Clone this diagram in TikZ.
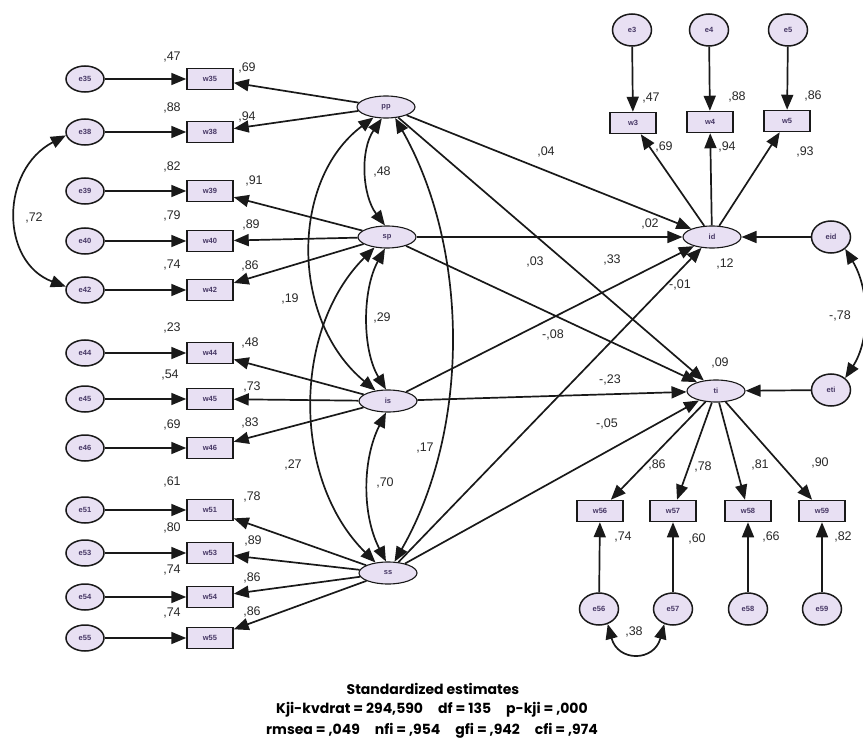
\documentclass[tikz,border=0pt]{standalone}
\usepackage{fontspec}
\setmainfont{Liberation Sans}
\newfontfamily\titlefont{Poppins}
\usetikzlibrary{arrows.meta,shapes.geometric}
\definecolor{nodefill}{RGB}{232,224,243}
\definecolor{edgecol}{RGB}{25,25,25}
\definecolor{txtcol}{RGB}{70,55,100}
\definecolor{lblcol}{RGB}{40,40,40}
\tikzset{
  >={Triangle[length=15pt,width=12pt]},
  base/.style={draw=edgecol,line width=1.5pt,fill=nodefill,font=\bfseries\fontsize{7.5}{8}\selectfont,text=txtcol,inner sep=0pt},
  errl/.style={base,ellipse,minimum width=38pt,minimum height=26pt},
  errr/.style={base,ellipse,minimum width=39pt,minimum height=32pt},
  obs/.style={base,rectangle,minimum width=46pt,minimum height=21pt},
  lat/.style={base,ellipse,line width=1.1pt,minimum width=58pt,minimum height=22pt},
  path/.style={draw=edgecol,line width=1.7pt,->},
  cov/.style={draw=edgecol,line width=1.7pt,<->},
  lbl/.style={font=\fontsize{12.5}{14}\selectfont,text=lblcol,inner sep=0pt},
  bottom/.style={font=\titlefont\bfseries\fontsize{14}{16}\selectfont,text=black,inner sep=0pt}
}
\newcommand{\gap}{\hspace{15pt}}
\begin{document}
\begin{tikzpicture}[x=1pt,y=-1pt]
\useasboundingbox (0,0) rectangle (863,752);
% left indicators
\foreach \n/\y in {35/79,38/132,39/191,40/241,42/290,44/353,45/399,46/448,51/510,53/553,54/597,55/638}{
  \node[errl] (e\n) at (85,\y) {e\n};
  \node[obs] (w\n) at (210,\y) {w\n};
  \draw[path] (e\n) -- (w\n);
}
% latent
\node[lat] (pp) at (386,107) {pp};
\node[lat] (sp) at (387,237) {sp};
\node[lat] (is) at (388,401) {is};
\node[lat] (ss) at (388,573) {ss};
\node[lat] (id) at (712,237) {id};
\node[lat] (ti) at (716,391) {ti};
% top
\node[errr] (e3) at (632,30) {e3};
\node[errr] (e4) at (709,30) {e4};
\node[errr] (e5) at (788,30) {e5};
\node[obs] (w3) at (633,123) {w3};
\node[obs] (w4) at (710,122) {w4};
\node[obs] (w5) at (787,121) {w5};
\node[errr] (eid) at (831,237) {eid};
\node[errr] (eti) at (831,390) {eti};
% bottom right
\node[obs] (w56) at (600,511) {w56};
\node[obs] (w57) at (673,511) {w57};
\node[obs] (w58) at (748,511) {w58};
\node[obs] (w59) at (822,511) {w59};
\node[errr] (e56) at (599,609) {e56};
\node[errr] (e57) at (673,609) {e57};
\node[errr] (e58) at (748,609) {e58};
\node[errr] (e59) at (822,609) {e59};
% loadings
\foreach \w in {35,38}{\draw[path] (pp) -- (w\w);}
\foreach \w in {39,40,42}{\draw[path] (sp) -- (w\w);}
\foreach \w in {44,45,46}{\draw[path] (is) -- (w\w);}
\foreach \w in {51,53,54,55}{\draw[path] (ss) -- (w\w);}
\foreach \w in {3,4,5}{\draw[path] (id) -- (w\w); \draw[path] (e\w) -- (w\w);}
\foreach \w in {56,57,58,59}{\draw[path] (ti) -- (w\w); \draw[path] (e\w) -- (w\w);}
% structural
\foreach \s in {pp,sp,is,ss}{\draw[path] (\s) -- (id); \draw[path] (\s) -- (ti);}
\draw[path] (eid) -- (id);
\draw[path] (eti) -- (ti);
% covariances
\draw[cov] (e38.190) .. controls (0,170) and (0,262) .. (e42.170);
\draw[cov] (eid.-40) .. controls (870,290) and (870,340) .. (eti.40);
\draw[cov] (e56.-60) .. controls (618,662) and (654,662) .. (e57.-120);
\draw[cov] (pp.-110) .. controls (360,150) and (362,195) .. (sp.100);
\draw[cov] (sp.-100) .. controls (362,290) and (362,350) .. (is.100);
\draw[cov] (is.-100) .. controls (362,460) and (362,515) .. (ss.100);
\draw[cov] (pp.-140) .. controls (290,180) and (290,320) .. (is.140);
\draw[cov] (sp.-140) .. controls (292,330) and (292,480) .. (ss.140);
\draw[cov] (pp.-50) .. controls (470,250) and (470,430) .. (ss.60);
% labels
\foreach \t/\x/\y [count=\i] in {
 {,47}/172/57, {,69}/247/68, {,88}/172/108, {,94}/247/117, {,82}/172/167, {,91}/254/181,
 {,79}/172/216, {,89}/251/225, {,74}/172/265, {,86}/250/266, {,23}/172/328, {,48}/250/343,
 {,54}/170/375, {,73}/252/387, {,69}/172/425, {,83}/250/423, {,61}/172/482, {,78}/252/497,
 {,80}/172/528, {,89}/253/541, {,74}/172/570, {,86}/252/578, {,74}/172/613, {,86}/252/612,
 {,72}/34/218, {,48}/382/172, {,29}/382/318, {,70}/385/483, {,19}/290/299, {,27}/293/465,
 {,17}/425/448, {,04}/546/152, {,03}/535/262, {-,08}/553/335, {,33}/612/260, {,02}/650/224,
 {-,01}/680/285, {-,23}/610/380, {-,05}/607/424, {,47}/651/98, {,88}/737/97, {,86}/813/96,
 {,69}/664/147, {,94}/727/147, {,93}/805/152, {,12}/725/264, {,09}/720/363, {-,78}/840/316,
 {,86}/657/465, {,78}/703/467, {,81}/760/465, {,90}/820/463, {,74}/623/537, {,60}/697/539,
 {,66}/771/537, {,82}/843/537, {,38}/634/632}
 {\node[lbl] (lab\i) at (\x,\y) {\t};}
% bottom text
\node[bottom] (t1) at (433,689) {Standardized estimates};
\node[bottom] (t2) at (432,710) {Kji-kvdrat = 294,590\gap df = 135\gap p-kji = ,000};
\node[bottom] (t3) at (432,731) {rmsea = ,049\gap nfi = ,954\gap gfi = ,942\gap cfi = ,974};
\end{tikzpicture}
\end{document}
